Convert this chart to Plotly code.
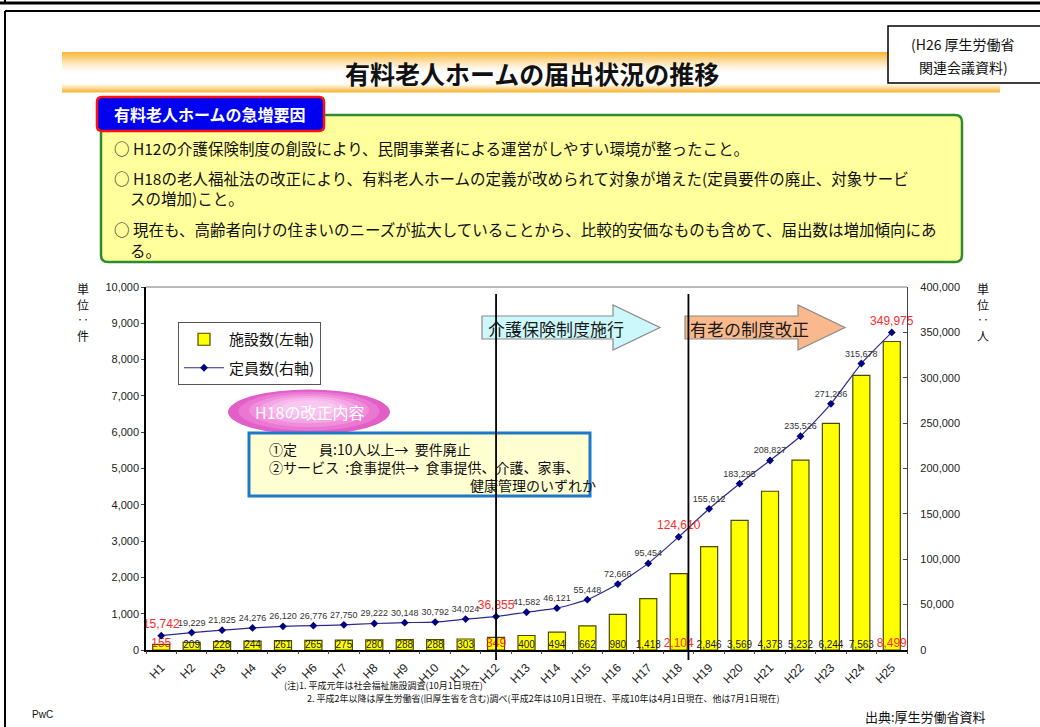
import plotly.graph_objects as go

# ---- data -------------------------------------------------------------
categories = ["H1", "H2", "H3", "H4", "H5", "H6", "H7", "H8", "H9", "H10",
              "H11", "H12", "H13", "H14", "H15", "H16", "H17", "H18", "H19",
              "H20", "H21", "H22", "H23", "H24", "H25"]
facilities = [155, 209, 228, 244, 261, 265, 275, 280, 288, 288, 303, 349, 400,
              494, 662, 980, 1418, 2104, 2846, 3569, 4373, 5232, 6244, 7563, 8499]
capacity = [15742, 19229, 21825, 24276, 26120, 26776, 27750, 29222, 30148,
            30792, 34024, 36855, 41582, 46121, 55448, 72666, 95454, 124610,
            155612, 183295, 208827, 235526, 271286, 315678, 349975]
highlight = ["H1", "H12", "H18", "H25"]

JP = "Noto Sans CJK JP"
NUM = "Liberation Sans, Arial"
RED = "#FF2A2A"

W, H = 1040, 727
ML, MR, MT, MB = 146, 133, 287, 77
PW, PH = W - ML - MR, H - MT - MB


def px(x):
    return (x - ML) / PW


def py(y):
    return (H - MB - y) / PH


def cat_x(label, offset=0.0):
    i = categories.index(label)
    return (i + 0.5 + offset) / len(categories)


fac_text = [f"{v:,}" for v in facilities]
cap_text = [f"{v:,}" for v in capacity]
hl = [c in highlight for c in categories]
fac_size = [12 if h else 10 for h in hl]
fac_col = [RED if h else "#222222" for h in hl]
cap_size = [12 if h else 9 for h in hl]
cap_col = [RED if h else "#333333" for h in hl]

fig = go.Figure()

fig.add_trace(go.Bar(
    x=categories, y=facilities, name="施設数(左軸)", width=0.56,
    marker=dict(color="#FFFF00", line=dict(color="#4a4a00", width=1.2)),
    legendgroup="a", hoverinfo="skip"))

# facility counts written just above the baseline
fig.add_trace(go.Scatter(
    x=categories, y=[0] * len(categories), mode="text", text=fac_text,
    textposition="top center", cliponaxis=False, showlegend=False,
    textfont=dict(size=fac_size, color=fac_col, family=NUM), hoverinfo="skip"))

fig.add_trace(go.Scatter(
    x=categories, y=capacity, yaxis="y2", name="定員数(右軸)",
    mode="lines+markers+text", text=cap_text, textposition="top center",
    textfont=dict(size=cap_size, color=cap_col, family=NUM),
    line=dict(color="#2b2b8c", width=1.2, shape="spline", smoothing=0.5),
    marker=dict(symbol="diamond", size=6, color="#000080"),
    cliponaxis=False, legendgroup="b", hoverinfo="skip"))

# empty companion trace so the overlay axis can carry boundary tick marks
fig.add_trace(go.Scatter(
    x=categories, y=[None] * len(categories), xaxis="x2", mode="markers",
    showlegend=False, hoverinfo="skip"))

shapes = []
annotations = []


def ann(x, y, text, size=14, color="#111111", xa="left", ya="middle",
        family=JP, **kw):
    annotations.append(dict(
        x=px(x), y=py(y), xref="paper", yref="paper", text=text,
        showarrow=False, xanchor=xa, yanchor=ya,
        font=dict(size=size, color=color, family=family), **kw))


def rect(x0, y0, x1, y1, fill=None, line="black", lw=1, layer="above"):
    shapes.append(dict(
        type="rect", xref="paper", yref="paper",
        x0=px(x0), x1=px(x1), y0=py(y1), y1=py(y0),
        fillcolor=fill if fill else "rgba(0,0,0,0)",
        line=dict(color=line, width=lw), layer=layer))


def pline(x0, y0, x1, y1, color="black", lw=1):
    shapes.append(dict(
        type="line", xref="paper", yref="paper",
        x0=px(x0), x1=px(x1), y0=py(y0), y1=py(y1),
        line=dict(color=color, width=lw)))


def poly(points, fill, line, lw=1):
    path = "M " + " L ".join(f"{px(x):.5f},{py(y):.5f}" for x, y in points) + " Z"
    shapes.append(dict(type="path", xref="paper", yref="paper", path=path,
                       fillcolor=fill, line=dict(color=line, width=lw)))


def rrect(x0, y0, x1, y1, r, fill, line, lw):
    def p(x, y):
        return f"{px(x):.5f},{py(y):.5f}"
    path = (f"M {p(x0 + r, y0)} L {p(x1 - r, y0)} Q {p(x1, y0)} {p(x1, y0 + r)} "
            f"L {p(x1, y1 - r)} Q {p(x1, y1)} {p(x1 - r, y1)} "
            f"L {p(x0 + r, y1)} Q {p(x0, y1)} {p(x0, y1 - r)} "
            f"L {p(x0, y0 + r)} Q {p(x0, y0)} {p(x0 + r, y0)} Z")
    shapes.append(dict(type="path", xref="paper", yref="paper", path=path,
                       fillcolor=fill, line=dict(color=line, width=lw)))


def mix(c1, c2, t):
    a = [int(c1[i:i + 2], 16) for i in (1, 3, 5)]
    b = [int(c2[i:i + 2], 16) for i in (1, 3, 5)]
    return "#" + "".join(f"{round(a[k] + (b[k] - a[k]) * t):02x}" for k in range(3))


# ---- page frame ---------------------------------------------------------
pline(0, 3, W, 3, lw=3)
pline(5, 0, 5, 3, lw=2)
pline(5, 11, W, 11, lw=2)
pline(5, 11, 5, H, lw=2)

# ---- title band with vertical orange-white-orange gradient -------------
ORANGE = "#F8B430"
band_top, band_bot, steps = 52, 92, 40
for k in range(steps):
    t = (k + 0.5) / steps
    w = max(1 - t / 0.5, 0) ** 1.3 + max((t - 0.78) / 0.22, 0) ** 1.2
    col = mix("#FFFFFF", ORANGE, min(w, 1))
    y0 = band_top + (band_bot - band_top) * k / steps
    y1 = band_top + (band_bot - band_top) * (k + 1) / steps + 0.6
    rect(62, y0, 1000, y1, fill=col, line="rgba(0,0,0,0)", lw=0)
ann(532, 73, "<b>有料老人ホームの届出状況の推移</b>", size=25, xa="center")

# source box at top right
rect(888, 26, 1045, 83, fill="white", line="black", lw=1.5)
ann(963, 44, "(H26 厚生労働省", size=14, xa="center")
ann(963, 67, "関連会議資料)", size=14, xa="center")

# ---- reasons panel --------------------------------------------------------
rrect(101, 115, 962, 262, 7, "#FFFF9C", "#2E8B2E", 2.5)
rrect(97, 97, 324, 131, 5, "#0000F0", "#FF1010", 2.5)
ann(210, 114, "<b>有料老人ホームの急増要因</b>", size=16, color="white", xa="center")
ann(112, 148, "○ H12の介護保険制度の創設により、民間事業者による運営がしやすい環境が整ったこと。", size=15.5)
ann(112, 178, "○ H18の老人福祉法の改正により、有料老人ホームの定義が改められて対象が増えた(定員要件の廃止、対象サービ", size=15.5)
ann(128, 198, "スの増加)こと。", size=15.5)
ann(112, 229, "○ 現在も、高齢者向けの住まいのニーズが拡大していることから、比較的安価なものも含めて、届出数は増加傾向にあ", size=15.5)
ann(128, 250, "る。", size=15.5)

# ---- plot area border ------------------------------------------------------
shapes.append(dict(type="line", xref="paper", yref="paper", x0=0, x1=1, y0=1, y1=1,
                   line=dict(color="#777777", width=1)))

# ---- H18 revision callout -------------------------------------------------
pinks = ["#E35FC8", "#EA78D3", "#F08EDC", "#F4A5E5", "#F7B8EC", "#F9C6F0"]
cx, cy, rx, ry = 309, 412, 81, 22.5
for k, col in enumerate(pinks):
    f = 1 - k * 0.13
    shapes.append(dict(type="circle", xref="paper", yref="paper",
                       x0=px(cx - rx * f), x1=px(cx + rx * f),
                       y0=py(cy + ry * f - k * 0.8), y1=py(cy - ry * f - k * 0.8),
                       fillcolor=col, line=dict(width=0)))
ann(309, 412, "H18の改正内容", size=16, color="white", xa="center")

rect(249, 433, 590, 496, fill="#FFFFD2", line="#1E78C8", lw=3)
ann(267, 449, "①定", size=14)
ann(317, 449, "員:10人以上→  要件廃止", size=14)
ann(267, 467, "②サービス  :食事提供→  食事提供、介護、家事、", size=14)
ann(468, 485, "健康管理のいずれか", size=14)

# ---- system change arrows ---------------------------------------------
def arrow(x0, xb, xt, fill):
    pts = [(x0, 316), (xb, 316), (xb, 305), (xt, 327.5), (xb, 350), (xb, 339), (x0, 339)]
    poly(pts, fill, "#8a8a8a", 1.2)


arrow(482, 613, 660, "#CCF8FC")
arrow(685, 798, 845, "#F9B98C")
ann(486, 328, "介護保険制度施行", size=17, color="#1a1a1a")
ann(688, 328, "有老の制度改正", size=17, color="#1a1a1a")

# vertical markers at the two system changes
for lab, off in (("H12", 0.0), ("H18", 0.32)):
    shapes.append(dict(type="line", xref="paper", yref="paper",
                       x0=cat_x(lab, off), x1=cat_x(lab, off),
                       y0=py(660), y1=py(294),
                       line=dict(color="black", width=1.8), layer="above"))

# ---- unit labels (vertical writing) ---------------------------------------
ann(83, 278, "単<br>位<br>‥<br>件", size=12, xa="center", ya="top")
ann(983, 278, "単<br>位<br>‥<br>人", size=12, xa="center", ya="top")

# ---- notes ---------------------------------------------------------------
ann(282, 685, "(注)1. 平成元年は社会福祉施設調査(10月1日現在)", size=9)
ann(305, 698, "2. 平成2年以降は厚生労働省(旧厚生省を含む)調べ(平成2年は10月1日現在、平成10年は4月1日現在、他は7月1日現在)", size=9)
ann(30, 714, "PwC", size=10, family=NUM)
ann(988, 716, "出典:厚生労働省資料", size=13, xa="right")

fig.update_layout(
    width=W, height=H,
    margin=dict(l=ML, r=MR, t=MT, b=MB, pad=0),
    paper_bgcolor="white", plot_bgcolor="white",
    font=dict(family=JP, color="#222222"),
    showlegend=True,
    legend=dict(x=px(178), y=py(322), xanchor="left", yanchor="top",
                bgcolor="white", bordercolor="#555555", borderwidth=1,
                font=dict(size=15, family=JP, color="#111111"),
                traceorder="grouped", tracegroupgap=6, itemwidth=40),
    xaxis=dict(type="category", range=[-0.5, len(categories) - 0.5],
               tickangle=-45, tickfont=dict(size=12, family=NUM, color="#222222"),
               ticks="", ticklabelstandoff=4,
               showline=True, linecolor="black", linewidth=2, showgrid=False,
               zeroline=False),
    xaxis2=dict(type="category", overlaying="x", side="bottom",
                range=[-0.5, len(categories) - 0.5], categoryarray=categories,
                tickson="boundaries", ticks="outside", ticklen=3,
                tickcolor="#444444", showticklabels=False, showline=False,
                showgrid=False, zeroline=False),
    yaxis=dict(range=[0, 10000], dtick=1000, tickformat=",",
               tickfont=dict(size=11, family=NUM, color="#222222"),
               ticks="outside", ticklen=3, tickcolor="#444444",
               showline=True, linecolor="black", linewidth=1.5,
               showgrid=False, zeroline=False),
    yaxis2=dict(overlaying="y", side="right", range=[0, 400000], dtick=50000,
                tickformat=",", tickfont=dict(size=11, family=NUM, color="#222222"),
                ticks="inside", ticklen=4, tickcolor="#444444",
                ticklabelstandoff=10,
                showline=True, linecolor="#444444", linewidth=1.2,
                showgrid=False, zeroline=False),
    bargap=0.44,
    shapes=shapes,
    annotations=annotations,
)

fig.write_html("out.html")
